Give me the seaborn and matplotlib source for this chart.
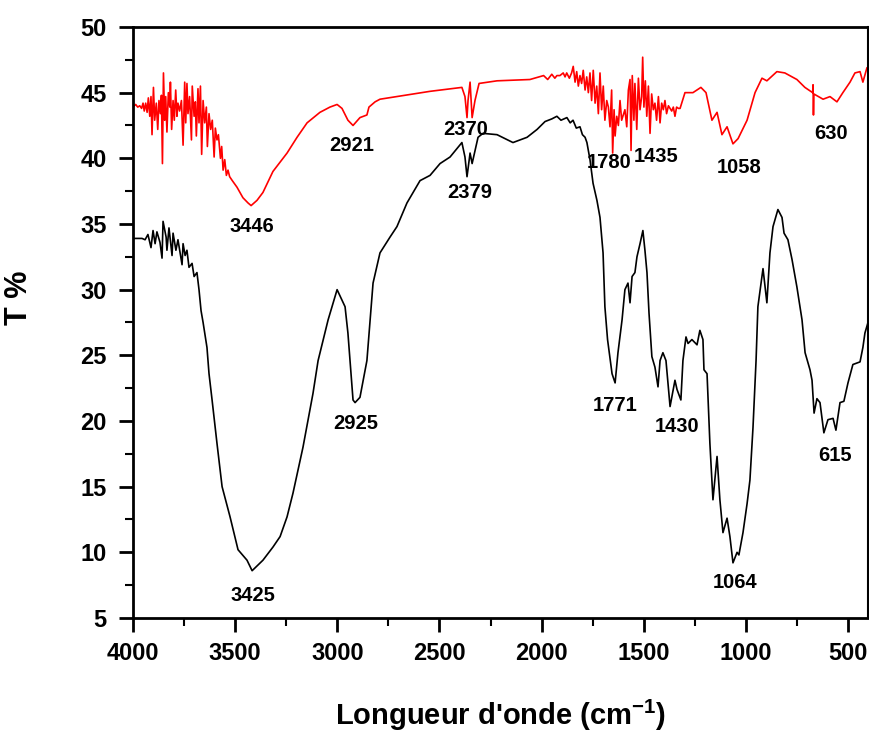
import numpy as np
import pandas as pd
import matplotlib
matplotlib.use("Agg")
import matplotlib.pyplot as plt
import seaborn as sns
from matplotlib.ticker import MultipleLocator

# =============================================================================
# Data
# =============================================================================

# black spectrum
wn_black = [4000, 3956, 3941, 3927, 3912, 3902, 3892, 3883, 3868, 3858, 3853, 3838,
            3834, 3824, 3809, 3804, 3790, 3780, 3760, 3755, 3745, 3736, 3726, 3711,
            3701, 3687, 3677, 3667, 3657, 3638, 3628, 3613, 3589, 3564, 3525, 3486,
            3442, 3417, 3364, 3315, 3280, 3246, 3217, 3168, 3119, 3094, 3045, 3001,
            2962, 2948, 2923, 2913, 2889, 2855, 2825, 2791, 2742, 2708, 2659, 2595,
            2546, 2497, 2448, 2390, 2375, 2365, 2350, 2340, 2311, 2287, 2218, 2140,
            2071, 2022, 1983, 1950, 1925, 1905, 1876, 1860, 1846, 1830, 1812, 1800,
            1787, 1778, 1763, 1748, 1729, 1714, 1699, 1690, 1677, 1655, 1640, 1626,
            1606, 1592, 1577, 1567, 1557, 1543, 1533, 1518, 1504, 1494, 1484, 1474,
            1460, 1445, 1430, 1420, 1406, 1391, 1371, 1347, 1337, 1318, 1308, 1293,
            1283, 1264, 1239, 1225, 1210, 1205, 1190, 1176, 1161, 1141, 1127, 1112,
            1092, 1078, 1063, 1043, 1034, 1014, 994, 980, 965, 950, 941, 916, 897,
            882, 867, 843, 823, 813, 794, 774, 750, 725, 710, 686, 676, 666, 652,
            637, 618, 598, 573, 559, 539, 520, 500, 476, 441, 427, 417, 402]
t_black = [33.9, 33.9, 33.8, 34.2, 33.2, 34.5, 33.5, 34.4, 33.6, 32.4, 35.2, 34.0,
           33.0, 34.7, 32.6, 34.3, 33.0, 33.8, 31.9, 33.5, 32.6, 33.0, 31.7, 32.0,
           31.0, 31.3, 30.0, 28.4, 27.5, 25.6, 23.6, 21.6, 18.3, 15.0, 12.7, 10.2,
           9.4, 8.6, 9.4, 10.4, 11.2, 12.7, 14.5, 18.0, 22.1, 24.6, 27.7, 30.0,
           28.7, 26.7, 21.6, 21.4, 21.8, 24.6, 30.5, 32.8, 34.0, 34.8, 36.6, 38.3,
           38.7, 39.6, 40.1, 41.2, 40.1, 38.6, 40.4, 39.6, 41.6, 41.9, 41.8, 41.2,
           41.6, 42.2, 42.8, 43.0, 43.2, 42.9, 43.1, 42.7, 42.9, 42.3, 42.4, 41.8,
           41.6, 41.2, 39.9, 38.1, 36.8, 35.5, 32.8, 28.7, 26.2, 23.6, 22.9, 25.2,
           27.7, 30.0, 30.5, 29.0, 31.0, 31.3, 32.5, 33.5, 34.5, 33.0, 31.3, 28.2,
           24.9, 24.1, 22.6, 24.6, 25.2, 24.6, 21.1, 23.1, 22.4, 21.6, 24.6, 26.4,
           25.9, 26.2, 25.8, 26.9, 26.2, 23.9, 23.6, 18.3, 14.0, 17.3, 14.0, 11.5,
           12.6, 11.2, 9.2, 10.0, 9.8, 11.5, 13.7, 15.5, 19.5, 24.6, 28.7, 31.6, 29.0,
           32.8, 34.8, 36.1, 35.5, 34.3, 33.8, 32.3, 30.2, 27.7, 25.2, 23.9, 23.1, 20.6,
           21.7, 21.4, 19.1, 20.1, 20.2, 19.3, 21.4, 21.5, 22.9, 24.3, 24.5, 25.6, 26.7, 27.5]

# red spectrum
wn_red = [4000, 3987, 3977, 3967, 3958, 3951, 3945, 3938, 3931, 3925, 3918, 3912,
          3907, 3900, 3894, 3886, 3879, 3873, 3866, 3861, 3856, 3851, 3845, 3840,
          3834, 3827, 3820, 3817, 3811, 3804, 3798, 3791, 3785, 3780, 3772, 3763,
          3755, 3747, 3742, 3736, 3731, 3723, 3714, 3710, 3701, 3695, 3690, 3682,
          3677, 3670, 3664, 3657, 3649, 3641, 3636, 3628, 3620, 3612, 3603, 3597,
          3589, 3582, 3572, 3566, 3559, 3551, 3543, 3535, 3527, 3514,
          3491, 3462, 3437, 3422, 3393, 3364, 3315, 3246, 3197,
          3148, 3085, 3036, 3001, 2977, 2948, 2923, 2889, 2855, 2845, 2815, 2791,
          2546, 2390, 2375, 2365, 2360, 2350, 2340, 2326, 2306, 2218, 2057, 1990,
          1970, 1950, 1935, 1925,
          1910, 1894, 1885, 1877, 1864, 1853, 1845, 1836, 1828, 1820, 1812, 1804,
          1796, 1787, 1779, 1771, 1763, 1755, 1747, 1738, 1730, 1722, 1714, 1706,
          1698, 1690, 1681, 1673, 1665, 1657, 1652, 1645, 1640, 1632, 1624, 1616,
          1608, 1600, 1592, 1583, 1575, 1567, 1562, 1556, 1548, 1543, 1534, 1526,
          1518, 1510, 1505, 1499, 1492, 1485, 1477, 1469, 1461, 1453, 1445, 1437,
          1428, 1420, 1412, 1404, 1396, 1388, 1379, 1371, 1363, 1355, 1347, 1339,
          1330, 1322, 1298, 1259, 1220, 1195, 1166, 1141, 1117, 1092, 1063, 1038,
          994, 955, 921, 897, 848, 809, 774, 750, 711, 673, 671, 669, 667,
          622, 588, 554, 525, 490, 466, 441, 427, 407]
t_red = [43.9, 44.1, 43.9, 44.0, 43.8, 44.2, 43.6, 44.2, 43.5, 44.6, 43.2, 44.7,
         41.8, 45.4, 42.9, 44.2, 42.2, 44.4, 43.4, 44.8, 39.6, 46.5, 42.9, 44.7,
         42.0, 45.0, 43.9, 45.8, 42.2, 44.4, 42.9, 45.2, 43.2, 44.2, 43.6, 44.4,
         41.0, 45.8, 42.7, 45.7, 43.4, 44.7, 41.4, 45.5, 43.2, 44.3, 41.7, 45.3,
         42.7, 45.5, 40.3, 44.4, 42.7, 43.9, 40.9, 43.4, 42.2, 42.9, 40.1, 42.3,
         41.4, 41.8, 40.0, 40.9, 39.1, 39.9, 38.7, 39.1, 38.6, 38.3,
         37.8, 37.0, 36.6, 36.4, 36.8, 37.4, 39.0, 40.4, 41.6,
         42.7, 43.5, 43.9, 44.1, 43.8, 42.9, 42.5, 43.1, 43.3, 43.9, 44.3, 44.5,
         45.1, 45.4, 44.7, 43.1, 44.4, 45.8, 43.1, 44.4, 45.7, 45.9, 46.0, 46.3,
         46.0, 46.4, 46.1, 46.3,
         46.3, 46.5, 46.2, 46.5, 46.1, 46.5, 47.0, 45.8, 46.6, 45.5, 46.3, 45.7,
         46.7, 45.2, 46.2, 45.0, 46.5, 44.4, 46.7, 44.2, 45.5, 43.4, 46.5, 43.7,
         45.5, 42.9, 44.4, 43.9, 42.4, 45.2, 40.4, 43.7, 41.7, 43.2, 42.5, 44.4,
         42.9, 43.3, 43.7, 42.4, 45.2, 46.0, 40.6, 46.3, 42.9, 45.7, 42.2, 46.1,
         43.7, 44.7, 47.7, 43.9, 45.9, 43.2, 45.5, 41.9, 44.9, 43.7, 44.2, 42.9,
         44.7, 42.7, 44.2, 43.7, 44.4, 43.4, 44.0, 43.8, 43.6, 43.9, 43.2, 43.9,
         43.8, 43.8, 45.0, 45.0, 45.4, 45.0, 42.9, 43.5, 41.8, 42.4, 41.1, 41.5,
         42.9, 45.0, 46.1, 45.9, 46.6, 46.5, 46.2, 46.0, 45.4, 45.0, 45.6, 43.3, 44.9,
         44.5, 44.7, 44.3, 45.0, 45.8, 46.5, 46.6, 45.8, 46.9]

# peak labels
red_labels = ['3446', '2921', '2370', '1780', '1435', '1058', '630']
red_lab_x = [3417, 2928, 2370, 1670, 1440, 1034, 583]
red_lab_y = [34.8, 41.0, 42.2, 39.7, 40.1, 39.3, 41.9]

black_labels = ['3425', '2925', '2379', '1771', '1430', '1064', '615']
black_lab_x = [3413, 2908, 2350, 1640, 1337, 1053, 564]
black_lab_y = [6.7, 19.8, 37.4, 21.2, 19.6, 7.7, 17.4]

# =============================================================================
# Plot
# =============================================================================

sns.set_style("ticks")
plt.rcParams['font.family'] = ['Liberation Sans', 'DejaVu Sans']
plt.rcParams['font.weight'] = 'bold'
plt.rcParams['mathtext.fontset'] = 'custom'
plt.rcParams['mathtext.bf'] = 'Liberation Sans:bold'
plt.rcParams['mathtext.rm'] = 'Liberation Sans:bold'
plt.rcParams['mathtext.default'] = 'bf'
for k in ['text.color', 'axes.labelcolor', 'xtick.color', 'ytick.color', 'axes.edgecolor']:
    plt.rcParams[k] = 'black'

df_black = pd.DataFrame({'wn': wn_black, 't': t_black})
df_red = pd.DataFrame({'wn': wn_red, 't': t_red})

fig = plt.figure(figsize=(8.7, 7.33), dpi=100)
ax = fig.add_axes([0.1529, 0.1569, 0.8448, 0.8063])

sns.lineplot(data=df_black, x='wn', y='t', color='black', lw=1.2,
             estimator=None, sort=False, ax=ax)
sns.lineplot(data=df_red, x='wn', y='t', color='#ff0000', lw=1.2,
             estimator=None, sort=False, ax=ax)

for txt, xx, yy in zip(red_labels, red_lab_x, red_lab_y):
    ax.text(xx, yy, txt, ha='center', va='center', fontsize=14.5, fontweight='bold')
for txt, xx, yy in zip(black_labels, black_lab_x, black_lab_y):
    ax.text(xx, yy, txt, ha='center', va='center', fontsize=14.5, fontweight='bold')

ax.set_xlim(4000, 402)
ax.set_ylim(5, 50)
ax.xaxis.set_major_locator(MultipleLocator(500))
ax.xaxis.set_minor_locator(MultipleLocator(250))
ax.yaxis.set_major_locator(MultipleLocator(5))
ax.yaxis.set_minor_locator(MultipleLocator(2.5))

ax.tick_params(which='major', direction='out', length=10, width=2,
               labelsize=17, pad=7)
ax.tick_params(which='minor', direction='out', length=6, width=1.5)
ax.tick_params(axis='y', which='major', pad=9)
for lab in ax.get_xticklabels() + ax.get_yticklabels():
    lab.set_fontweight('bold')

for s in ['left', 'bottom', 'top']:
    ax.spines[s].set_linewidth(2)
ax.spines['right'].set_linewidth(1.5)

ax.set_xlabel("Longueur d'onde (cm$^{-1}$)", fontsize=21, fontweight='bold', labelpad=24)
ax.set_ylabel("T %", fontsize=22, fontweight='bold')
ax.yaxis.set_label_coords(-0.135, 0.541)

fig.savefig('out.png', dpi=100)
